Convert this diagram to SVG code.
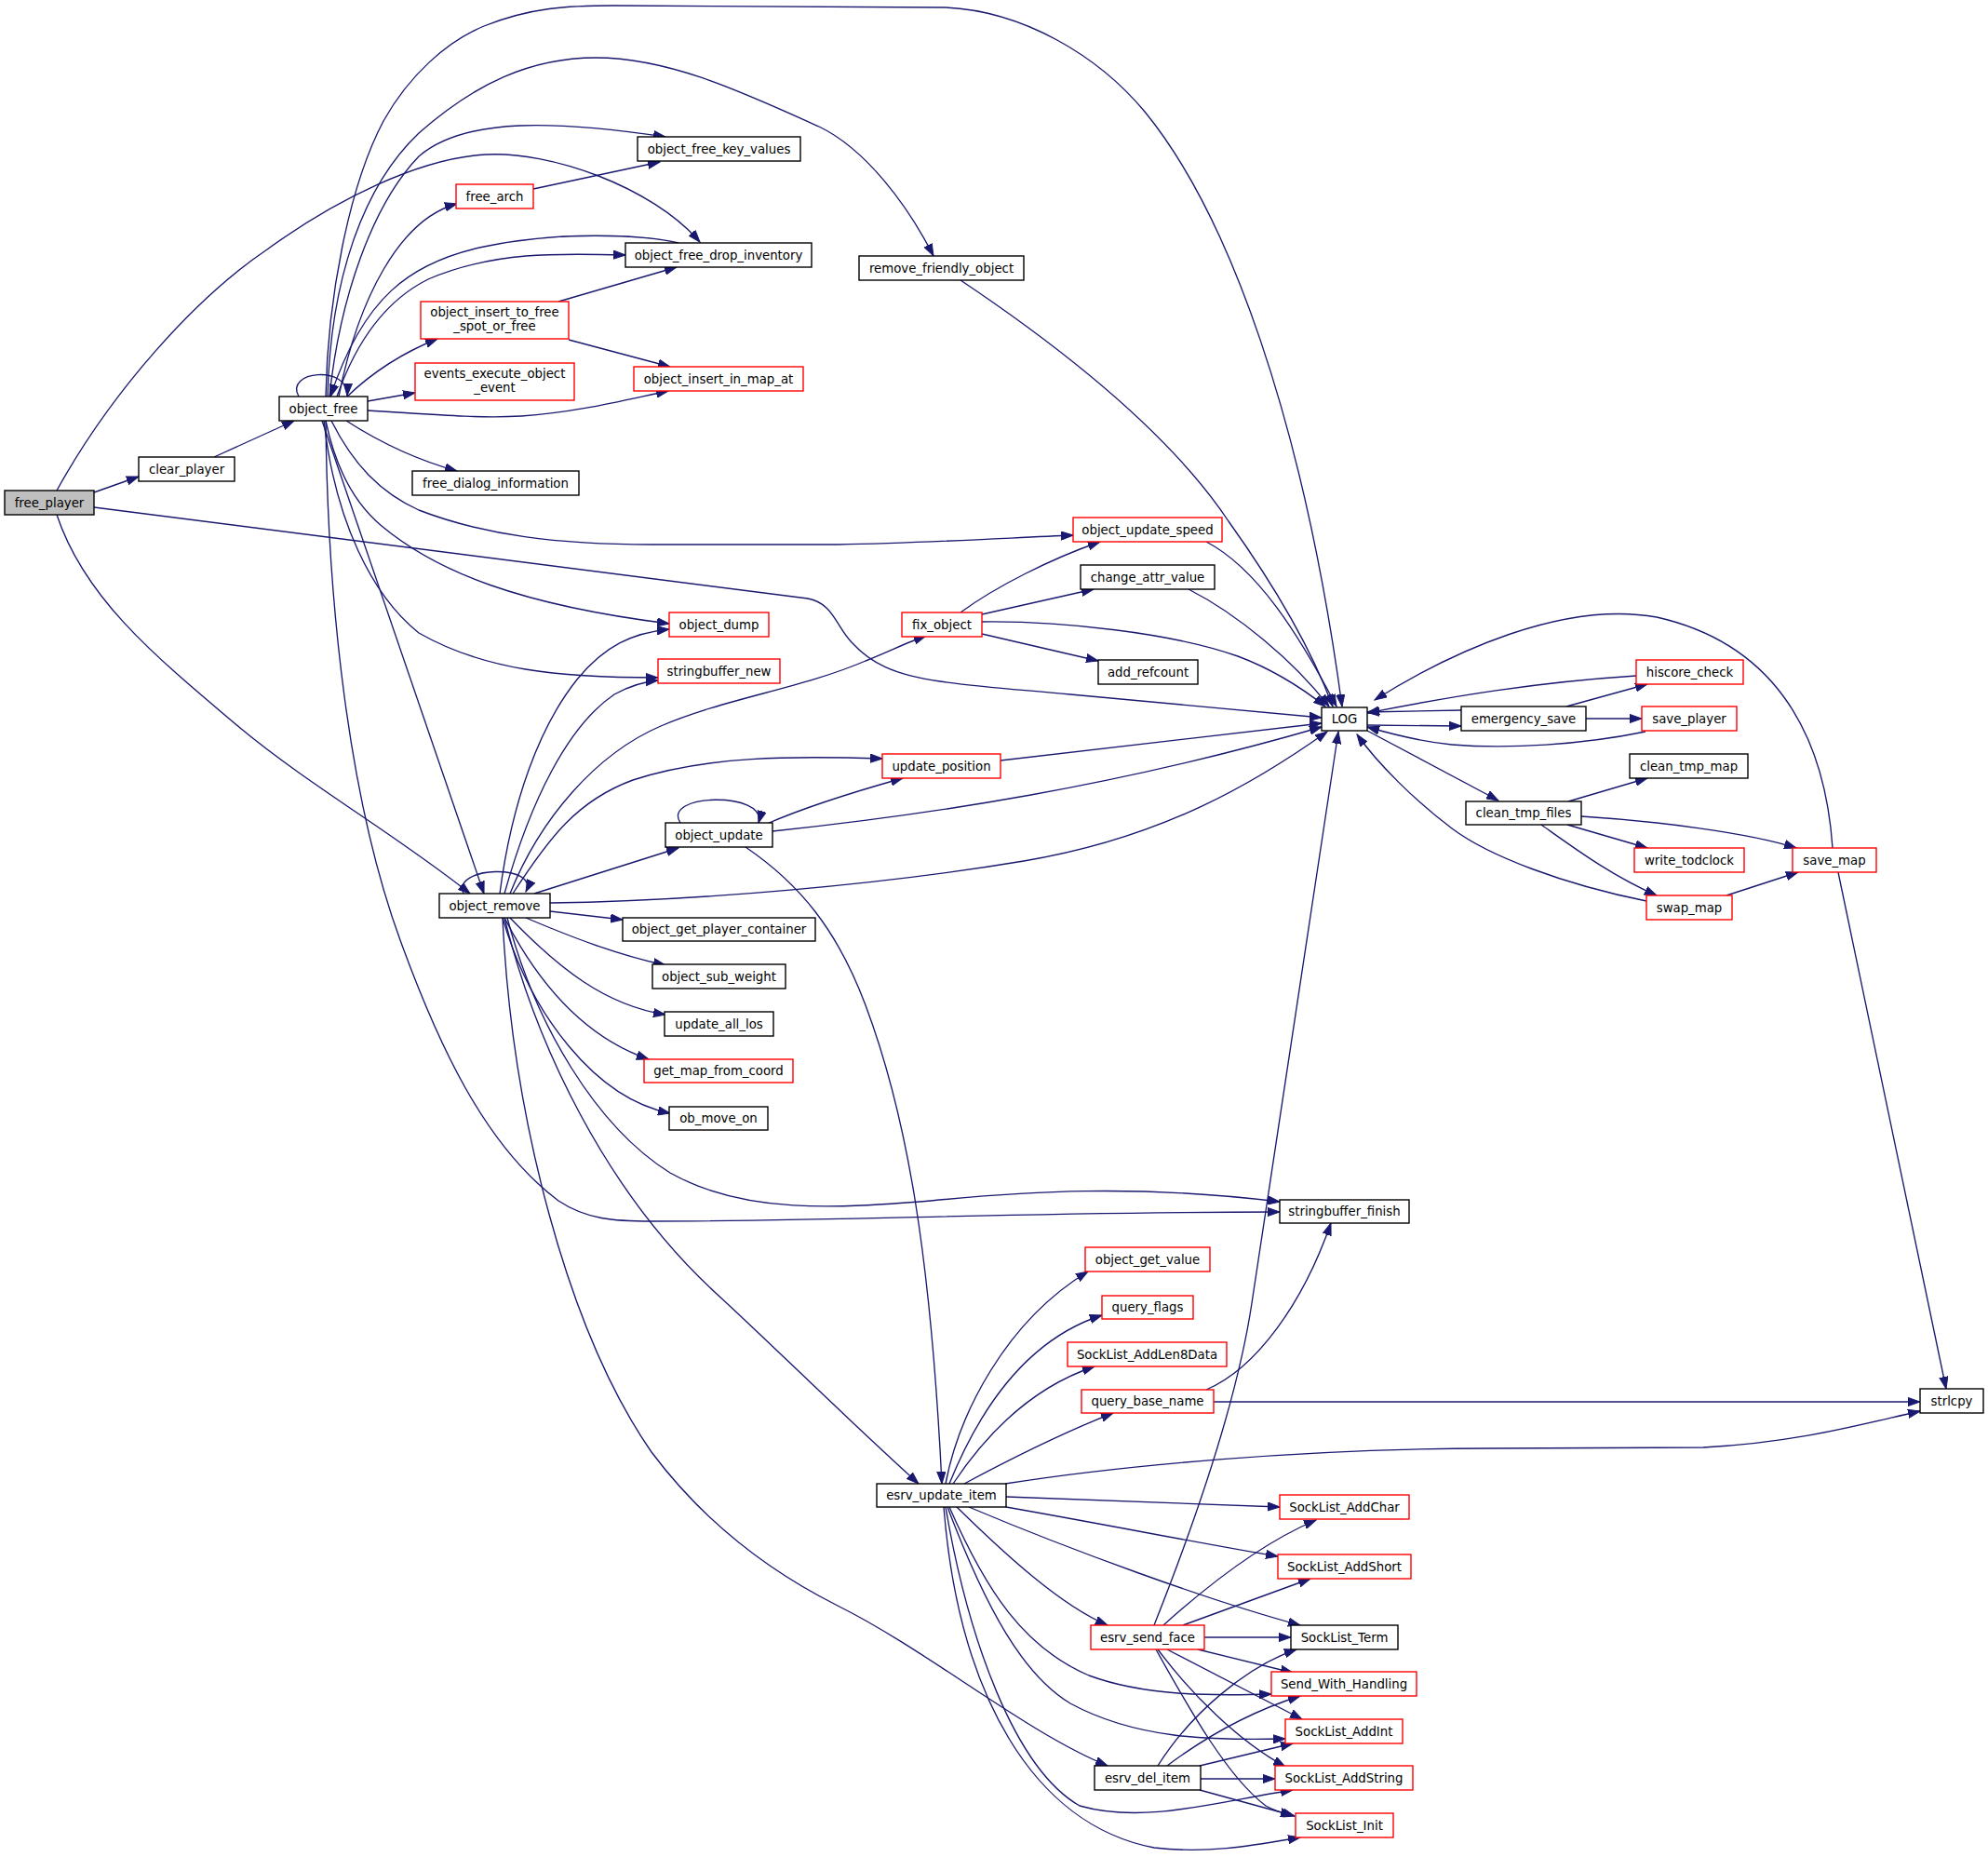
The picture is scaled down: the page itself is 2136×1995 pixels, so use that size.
<svg xmlns="http://www.w3.org/2000/svg" width="2136" height="1995" viewBox="0 0 2136 1995">
<style>
.n rect{fill:#fff;stroke:#000;stroke-width:1.4}
.r rect{fill:#fff;stroke:#ff0000;stroke-width:1.4}
.root rect{fill:#bfbfbf;stroke:#000;stroke-width:1.4}
text{font-family:"DejaVu Sans","Liberation Sans",sans-serif;font-size:13.3px;fill:#000;text-anchor:middle}
#edges path{fill:none;stroke:#191970;stroke-width:1.35;marker-end:url(#a)}
</style>
<defs>
<marker id="a" markerWidth="14" markerHeight="10" refX="13" refY="5" orient="auto" markerUnits="userSpaceOnUse">
<path d="M0,0.4 L13,5 L0,9.6 z" fill="#191970" stroke="#191970" stroke-width="1"/>
</marker>
</defs>
<rect width="2136" height="1995" fill="#fff"/>
<g id="edges">
<path d="M101,529 L149,512"/>
<path d="M61,527 C120,420 210,320 287,268 C360,215 450,170 522,166 C590,162 700,200 752,260"/>
<path d="M101,545 L868,643 C895,648 898,672 915,690 C935,712 960,725 1010,732 C1060,739 1100,741 1150,746 L1420,771"/>
<path d="M61,553 C90,640 160,700 258,782 C330,842 430,900 505,960"/>
<path d="M230,491 L316,452"/>
<path d="M321,426 C305,398 375,392 373,425"/>
<path d="M350,426 C352,320 375,200 412,130 C440,80 480,45 520,28 C570,8 610,6 660,6 L1016,8 C1100,12 1180,60 1230,120 C1320,230 1400,450 1442,759"/>
<path d="M352,426 C355,300 390,200 450,143 C510,90 570,62 640,62 C720,62 800,100 880,136 C930,160 975,220 1003,275"/>
<path d="M354,426 C365,320 400,220 450,168 C500,125 600,130 715,147"/>
<path d="M364,426 C385,320 430,235 491,219"/>
<path d="M362,426 C385,360 420,320 460,300 C530,270 600,272 672,274"/>
<path d="M729,261 C690,252 600,248 520,265 C440,282 390,320 355,426"/>
<path d="M373,426 C400,400 430,380 470,364"/>
<path d="M395,431 L446,422"/>
<path d="M395,441 C450,444 510,450 560,447 C620,443 670,430 718,420"/>
<path d="M372,452 C400,470 440,492 491,506"/>
<path d="M356,452 C380,500 410,530 450,548 C520,575 600,585 700,585 L900,585 C1000,583 1080,578 1153,575"/>
<path d="M350,452 C360,500 380,540 410,565 C470,615 560,650 719,670"/>
<path d="M348,452 C360,560 400,640 450,680 C520,720 600,728 707,728"/>
<path d="M346,452 L520,960"/>
<path d="M350,452 C352,650 375,860 430,1010 C470,1120 520,1230 600,1290 C630,1310 660,1312 700,1312 C900,1312 1100,1302 1375,1302"/>
<path d="M600,324 L727,287"/>
<path d="M611,365 L720,394"/>
<path d="M573,203 L709,174"/>
<path d="M1032,301 C1150,380 1260,470 1320,560 C1370,630 1410,700 1432,759"/>
<path d="M1296,582 C1350,610 1395,680 1436,759"/>
<path d="M1277,633 C1330,660 1390,710 1428,759"/>
<path d="M1055,668 C1140,667 1260,680 1330,705 C1370,720 1400,740 1424,759"/>
<path d="M1032,658 C1070,630 1130,600 1182,582"/>
<path d="M1055,660 L1175,633"/>
<path d="M1055,681 L1180,710"/>
<path d="M1075,817 L1420,777"/>
<path d="M824,885 C870,865 920,850 970,836"/>
<path d="M830,893 C1000,875 1200,845 1420,781"/>
<path d="M591,970 C750,968 950,950 1100,925 C1250,900 1350,840 1426,786"/>
<path d="M551,960 C590,900 620,860 680,838 C760,812 850,812 948,815"/>
<path d="M548,960 C580,880 640,810 710,780 C780,750 860,740 930,710 C955,700 975,690 995,683"/>
<path d="M574,960 L729,911"/>
<path d="M731,884 C710,852 825,850 815,884"/>
<path d="M801,910 C860,950 900,1000 930,1080 C975,1200 1000,1350 1012,1594"/>
<path d="M498,960 C485,930 580,928 565,958"/>
<path d="M591,979 L669,988"/>
<path d="M565,986 C610,1005 660,1025 715,1037"/>
<path d="M548,986 C600,1040 650,1080 715,1090"/>
<path d="M542,986 C580,1060 630,1115 697,1138"/>
<path d="M540,986 C570,1090 640,1180 720,1196"/>
<path d="M537,960 C550,860 580,780 620,730 C650,693 680,680 719,676"/>
<path d="M542,960 C570,860 610,780 660,746 C680,735 695,732 707,731"/>
<path d="M545,986 C575,1100 640,1210 720,1260 C800,1305 900,1298 1000,1290 C1100,1280 1220,1272 1375,1291"/>
<path d="M542,986 C575,1120 650,1280 770,1390 C830,1445 900,1515 987,1594"/>
<path d="M540,986 C550,1200 610,1430 700,1560 C760,1640 830,1690 900,1725 C1000,1775 1100,1860 1190,1897"/>
<path d="M1016,1594 C1030,1520 1080,1420 1169,1366"/>
<path d="M1020,1594 C1050,1520 1100,1440 1184,1413"/>
<path d="M1024,1594 C1060,1540 1110,1490 1176,1468"/>
<path d="M1036,1594 C1090,1565 1140,1540 1196,1518"/>
<path d="M1080,1594 C1200,1575 1400,1556 1600,1556 L1830,1555 C1930,1550 2000,1530 2063,1516"/>
<path d="M1081,1608 L1375,1619"/>
<path d="M1081,1619 C1200,1640 1300,1660 1373,1672"/>
<path d="M1041,1619 C1150,1665 1300,1720 1397,1746"/>
<path d="M1028,1619 C1080,1670 1140,1725 1190,1746"/>
<path d="M1020,1619 C1060,1710 1100,1770 1170,1800 C1230,1822 1300,1822 1366,1820"/>
<path d="M1018,1619 C1060,1730 1100,1800 1150,1830 C1220,1868 1300,1870 1381,1868"/>
<path d="M1016,1619 C1040,1760 1090,1900 1160,1940 C1230,1960 1310,1935 1389,1923"/>
<path d="M1014,1619 C1030,1820 1110,1960 1240,1985 C1300,1992 1350,1982 1397,1974"/>
<path d="M1240,1746 C1290,1620 1330,1500 1345,1400 L1438,786"/>
<path d="M1250,1746 C1290,1710 1350,1660 1414,1633"/>
<path d="M1271,1746 L1408,1696"/>
<path d="M1294,1759 L1387,1759"/>
<path d="M1287,1772 L1389,1797"/>
<path d="M1254,1772 L1399,1847"/>
<path d="M1244,1772 C1280,1820 1330,1870 1381,1898"/>
<path d="M1242,1772 C1280,1840 1320,1910 1360,1940 C1370,1946 1380,1948 1389,1950"/>
<path d="M1244,1897 C1280,1840 1340,1790 1393,1772"/>
<path d="M1254,1897 C1290,1870 1340,1840 1397,1822"/>
<path d="M1289,1897 L1389,1873"/>
<path d="M1290,1911 L1370,1911"/>
<path d="M1289,1923 L1391,1951"/>
<path d="M1296,1493 C1350,1470 1400,1400 1430,1314"/>
<path d="M1304,1506 L2063,1506"/>
<path d="M1975,937 L2091,1492"/>
<path d="M1969,911 C1960,780 1900,690 1780,663 C1680,645 1560,700 1477,752"/>
<path d="M1469,779 L1570,780"/>
<path d="M1570,763 L1469,765"/>
<path d="M1758,726 C1650,733 1560,748 1469,766"/>
<path d="M1768,786 C1700,800 1620,805 1560,800 C1530,797 1500,790 1469,781"/>
<path d="M1683,759 L1770,735"/>
<path d="M1704,772 L1764,772"/>
<path d="M1469,785 L1610,860"/>
<path d="M1769,968 C1680,950 1600,920 1560,890 C1520,860 1480,820 1458,789"/>
<path d="M1685,861 L1770,836"/>
<path d="M1699,877 C1780,882 1880,895 1930,911"/>
<path d="M1684,886 L1770,911"/>
<path d="M1656,886 C1690,910 1730,940 1780,962"/>
<path d="M1855,962 L1932,937"/>
</g>
<g id="free_player" class="root"><rect x="5" y="527" width="96" height="26"/><text x="53" y="544.7">free_player</text></g>
<g id="clear_player" class="n"><rect x="149" y="491" width="103" height="26"/><text x="200.5" y="508.7">clear_player</text></g>
<g id="object_free" class="n"><rect x="300" y="426" width="95" height="26"/><text x="347.5" y="443.7">object_free</text></g>
<g id="object_free_key_values" class="n"><rect x="685" y="147" width="175" height="26"/><text x="772.5" y="164.7">object_free_key_values</text></g>
<g id="free_arch" class="r"><rect x="490" y="198" width="83" height="26"/><text x="531.5" y="215.7">free_arch</text></g>
<g id="object_free_drop_inventory" class="n"><rect x="672" y="261" width="200" height="26"/><text x="772" y="278.7">object_free_drop_inventory</text></g>
<g id="object_insert_to_free_spot_or_free" class="r"><rect x="452" y="324" width="159" height="40"/><text x="531.5" y="340">object_insert_to_free</text><text x="531.5" y="354.5">_spot_or_free</text></g>
<g id="events_execute_object_event" class="r"><rect x="446" y="390" width="171" height="40"/><text x="531.5" y="406">events_execute_object</text><text x="531.5" y="420.5">_event</text></g>
<g id="object_insert_in_map_at" class="r"><rect x="681" y="394" width="182" height="26"/><text x="772" y="411.7">object_insert_in_map_at</text></g>
<g id="free_dialog_information" class="n"><rect x="443" y="506" width="179" height="26"/><text x="532.5" y="523.7">free_dialog_information</text></g>
<g id="remove_friendly_object" class="n"><rect x="923" y="275" width="177" height="26"/><text x="1011.5" y="292.7">remove_friendly_object</text></g>
<g id="object_update_speed" class="r"><rect x="1153" y="556" width="160" height="26"/><text x="1233" y="573.7">object_update_speed</text></g>
<g id="change_attr_value" class="n"><rect x="1161" y="607" width="144" height="26"/><text x="1233" y="624.7">change_attr_value</text></g>
<g id="fix_object" class="r"><rect x="969" y="658" width="86" height="26"/><text x="1012" y="675.7">fix_object</text></g>
<g id="add_refcount" class="n"><rect x="1180" y="709" width="107" height="26"/><text x="1233.5" y="726.7">add_refcount</text></g>
<g id="LOG" class="n"><rect x="1420" y="760" width="49" height="25"/><text x="1444.5" y="777">LOG</text></g>
<g id="update_position" class="r"><rect x="948" y="810" width="127" height="26"/><text x="1011.5" y="827.7">update_position</text></g>
<g id="object_dump" class="r"><rect x="719" y="658" width="107" height="26"/><text x="772.5" y="675.7">object_dump</text></g>
<g id="stringbuffer_new" class="r"><rect x="707" y="708" width="131" height="26"/><text x="772.5" y="725.7">stringbuffer_new</text></g>
<g id="object_update" class="n"><rect x="715" y="884" width="115" height="26"/><text x="772.5" y="901.7">object_update</text></g>
<g id="object_remove" class="n"><rect x="472" y="960" width="119" height="26"/><text x="531.5" y="977.7">object_remove</text></g>
<g id="object_get_player_container" class="n"><rect x="669" y="986" width="207" height="25"/><text x="772.5" y="1003">object_get_player_container</text></g>
<g id="object_sub_weight" class="n"><rect x="701" y="1036" width="143" height="26"/><text x="772.5" y="1053.7">object_sub_weight</text></g>
<g id="update_all_los" class="n"><rect x="714" y="1087" width="117" height="26"/><text x="772.5" y="1104.7">update_all_los</text></g>
<g id="get_map_from_coord" class="r"><rect x="692" y="1138" width="160" height="25"/><text x="772" y="1155">get_map_from_coord</text></g>
<g id="ob_move_on" class="n"><rect x="719" y="1189" width="106" height="25"/><text x="772" y="1206">ob_move_on</text></g>
<g id="stringbuffer_finish" class="n"><rect x="1375" y="1289" width="139" height="25"/><text x="1444.5" y="1306">stringbuffer_finish</text></g>
<g id="hiscore_check" class="r"><rect x="1758" y="709" width="115" height="26"/><text x="1815.5" y="726.7">hiscore_check</text></g>
<g id="emergency_save" class="n"><rect x="1570" y="759" width="134" height="26"/><text x="1637" y="776.7">emergency_save</text></g>
<g id="save_player" class="r"><rect x="1764" y="759" width="102" height="26"/><text x="1815" y="776.7">save_player</text></g>
<g id="clean_tmp_map" class="n"><rect x="1751" y="810" width="127" height="26"/><text x="1814.5" y="827.7">clean_tmp_map</text></g>
<g id="clean_tmp_files" class="n"><rect x="1575" y="861" width="124" height="25"/><text x="1637" y="878">clean_tmp_files</text></g>
<g id="write_todclock" class="r"><rect x="1756" y="911" width="118" height="26"/><text x="1815" y="928.7">write_todclock</text></g>
<g id="save_map" class="r"><rect x="1926" y="911" width="90" height="26"/><text x="1971" y="928.7">save_map</text></g>
<g id="swap_map" class="r"><rect x="1769" y="962" width="92" height="26"/><text x="1815" y="979.7">swap_map</text></g>
<g id="object_get_value" class="r"><rect x="1166" y="1340" width="134" height="26"/><text x="1233" y="1357.7">object_get_value</text></g>
<g id="query_flags" class="r"><rect x="1184" y="1392" width="98" height="25"/><text x="1233" y="1409">query_flags</text></g>
<g id="SockList_AddLen8Data" class="r"><rect x="1147" y="1442" width="171" height="26"/><text x="1232.5" y="1459.7">SockList_AddLen8Data</text></g>
<g id="query_base_name" class="r"><rect x="1162" y="1493" width="142" height="25"/><text x="1233" y="1510">query_base_name</text></g>
<g id="strlcpy" class="n"><rect x="2063" y="1492" width="68" height="26"/><text x="2097" y="1509.7">strlcpy</text></g>
<g id="esrv_update_item" class="n"><rect x="942" y="1594" width="139" height="25"/><text x="1011.5" y="1611">esrv_update_item</text></g>
<g id="SockList_AddChar" class="r"><rect x="1375" y="1606" width="139" height="26"/><text x="1444.5" y="1623.7">SockList_AddChar</text></g>
<g id="SockList_AddShort" class="r"><rect x="1373" y="1670" width="143" height="26"/><text x="1444.5" y="1687.7">SockList_AddShort</text></g>
<g id="esrv_send_face" class="r"><rect x="1172" y="1746" width="122" height="26"/><text x="1233" y="1763.7">esrv_send_face</text></g>
<g id="SockList_Term" class="n"><rect x="1387" y="1746" width="115" height="26"/><text x="1444.5" y="1763.7">SockList_Term</text></g>
<g id="Send_With_Handling" class="r"><rect x="1366" y="1796" width="156" height="26"/><text x="1444" y="1813.7">Send_With_Handling</text></g>
<g id="SockList_AddInt" class="r"><rect x="1381" y="1847" width="126" height="26"/><text x="1444" y="1864.7">SockList_AddInt</text></g>
<g id="SockList_AddString" class="r"><rect x="1370" y="1897" width="148" height="26"/><text x="1444" y="1914.7">SockList_AddString</text></g>
<g id="esrv_del_item" class="n"><rect x="1176" y="1897" width="114" height="26"/><text x="1233" y="1914.7">esrv_del_item</text></g>
<g id="SockList_Init" class="r"><rect x="1392" y="1948" width="105" height="26"/><text x="1444.5" y="1965.7">SockList_Init</text></g>
</svg>
